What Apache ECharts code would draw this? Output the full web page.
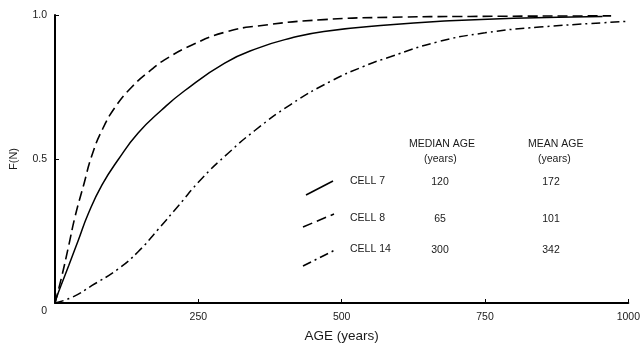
<!DOCTYPE html>
<html>
<head>
<meta charset="utf-8">
<script src="https://cdn.jsdelivr.net/npm/echarts@6/dist/echarts.min.js"></script>
<style>
  html, body { margin: 0; padding: 0; background: #fff; }
  #chart { width: 643px; height: 348px; }
</style>
</head>
<body>
<div id="chart"></div>
<script>
// curves: [age, F(N)]
var cell7 = [
  [0, 0], [6, 0.037], [24, 0.13], [41, 0.22], [58, 0.31], [82, 0.41],
  [111, 0.5], [145, 0.59], [186, 0.67], [226, 0.737], [296, 0.833],
  [354, 0.885], [412, 0.92], [469, 0.943], [585, 0.966], [672, 0.978],
  [800, 0.989], [955, 0.995]
];
var cell8 = [
  [0, 0], [12, 0.094], [24, 0.2], [35, 0.3], [50, 0.41], [64, 0.51],
  [82, 0.6], [105, 0.68], [134, 0.75], [168, 0.81], [191, 0.844],
  [238, 0.895], [296, 0.94], [354, 0.962], [469, 0.984], [585, 0.992],
  [724, 0.995], [970, 0.997]
];
var cell14 = [
  [0, 0], [30, 0.02], [64, 0.06], [110, 0.118], [145, 0.178], [180, 0.256],
  [215, 0.337], [255, 0.43], [302, 0.52], [348, 0.598], [411, 0.689],
  [481, 0.77], [539, 0.822], [585, 0.855], [666, 0.906], [750, 0.938],
  [845, 0.958], [1000, 0.978]
];

// table in the plot
var cellNames = ["CELL 7", "CELL 8", "CELL 14"];
var medianAges = ["120", "65", "300"];
var meanAges = ["172", "101", "342"];
var xTicks = [250, 500, 750, 1000];

var font = "'Liberation Sans', Arial, sans-serif";
var ink = "#1a1a1a";

var chart = echarts.init(document.getElementById("chart"));

var rowY = [182, 219, 250];
var sample = [
  { pts: [306, 195, 333, 181], type: "solid" },
  { pts: [303, 227, 334, 214], type: [10, 5] },
  { pts: [303, 266, 337, 249], type: [9, 4, 2, 4] }
];

var graphics = [
  { type: "text", left: 409, top: 139, style: { text: "MEDIAN AGE", font: "10.5px " + font, fill: ink } },
  { type: "text", left: 424, top: 154, style: { text: "(years)", font: "10.5px " + font, fill: ink } },
  { type: "text", left: 528, top: 139, style: { text: "MEAN AGE", font: "10.5px " + font, fill: ink } },
  { type: "text", left: 538, top: 154, style: { text: "(years)", font: "10.5px " + font, fill: ink } }
];
cellNames.forEach(function (name, i) {
  graphics.push({ type: "text", left: 350, top: rowY[i] - 6, style: { text: name, font: "10.5px " + font, fill: ink } });
  graphics.push({ type: "text", x: 440, y: rowY[i], style: { text: medianAges[i], font: "10.5px " + font, fill: ink, align: "center", verticalAlign: "middle" } });
  graphics.push({ type: "text", x: 551, y: rowY[i], style: { text: meanAges[i], font: "10.5px " + font, fill: ink, align: "center", verticalAlign: "middle" } });
  var p = sample[i].pts;
  graphics.push({
    type: "line",
    shape: { x1: p[0], y1: p[1], x2: p[2], y2: p[3] },
    style: { stroke: "#000", lineWidth: 1.6, lineDash: sample[i].type === "solid" ? null : sample[i].type }
  });
});

var option = {
  animation: false,
  backgroundColor: "#fff",
  grid: { left: 53, right: 14, top: 15, bottom: 44 },
  xAxis: {
    type: "value",
    min: 0,
    max: 1000,
    interval: 250,
    name: "AGE (years)",
    nameLocation: "middle",
    nameGap: 26,
    nameTextStyle: { fontFamily: font, fontSize: 13.5, color: ink },
    axisLine: { lineStyle: { color: "#000", width: 2 } },
    axisTick: { inside: true, length: 4, lineStyle: { color: "#000" } },
    axisLabel: {
      margin: 9,
      fontFamily: font,
      fontSize: 10.5,
      color: ink,
      formatter: function (v) { return xTicks.indexOf(v) >= 0 ? String(v) : ""; }
    },
    splitLine: { show: false }
  },
  yAxis: {
    type: "value",
    min: 0,
    max: 1,
    interval: 0.5,
    name: "F(N)",
    nameLocation: "middle",
    nameGap: 36,
    nameTextStyle: { fontFamily: font, fontSize: 11, color: ink },
    axisLine: { show: true, lineStyle: { color: "#000", width: 2 } },
    axisTick: { show: true, inside: true, length: 4, lineStyle: { color: "#000" } },
    axisLabel: {
      margin: 8,
      fontFamily: font,
      fontSize: 10.5,
      color: ink,
      formatter: function (v) { return v === 0 ? "{z|0}" : v.toFixed(1); },
      rich: { z: { padding: [16, 0, 0, 0], fontFamily: font, fontSize: 10.5, color: ink } }
    },
    splitLine: { show: false }
  },
  series: [
    {
      name: "CELL 7", type: "line", data: cell7, smooth: 0.5, symbol: "none",
      lineStyle: { color: "#000", width: 1.5, type: "solid" }
    },
    {
      name: "CELL 8", type: "line", data: cell8, smooth: 0.5, symbol: "none",
      lineStyle: { color: "#000", width: 1.6, type: [10, 5] }
    },
    {
      name: "CELL 14", type: "line", data: cell14, smooth: 0.5, symbol: "none",
      lineStyle: { color: "#000", width: 1.5, type: [9, 4, 2, 4] }
    }
  ],
  graphic: graphics
};

chart.setOption(option);
</script>
</body>
</html>
